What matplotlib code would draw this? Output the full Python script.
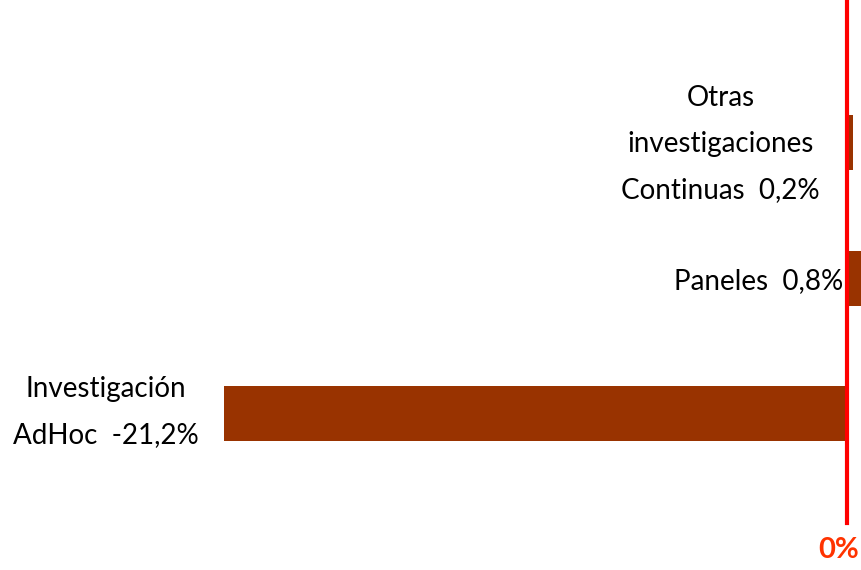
import matplotlib.pyplot as plt

# data
categories = ['Otras\ninvestigaciones\nContinuas', 'Paneles', 'Investigación\nAdHoc']
values = [0.2, 0.8, -21.2]
value_labels = ['0,2%', '0,8%', '-21,2%']

plt.rcParams['font.family'] = ['Lato', 'DejaVu Sans']

fig = plt.figure(figsize=(8.62, 5.70), dpi=100)
ax = fig.add_axes([0, 0, 1, 1])

ypos = list(range(len(values)))
ax.barh(ypos, values, height=0.406, color='#993300', zorder=2)

# zero line
ax.axvline(0, ymin=0.082, ymax=1, color='#FF0000', linewidth=3, zorder=3)

ax.set_xlim(-28.8, 0.51)
ax.set_ylim(3.155, -1.052)
ax.axis('off')

# labels
ax.text(-4.3, 0.01, categories[0].replace('Continuas', 'Continuas  ' + value_labels[0]),
        ha='center', va='center', fontsize=20, linespacing=1.95)
ax.text(-0.12, 1.02, categories[1] + '  ' + value_labels[1],
        ha='right', va='center', fontsize=20)
ax.text(-25.2, 1.99, categories[2].replace('AdHoc', 'AdHoc  ' + value_labels[2]),
        ha='center', va='center', fontsize=20, linespacing=1.95)

ax.text(0.42, 3.01, '0%', ha='right', va='center', fontsize=21,
        fontweight='bold', color='#FF3300')

fig.savefig('out.png', dpi=100)
